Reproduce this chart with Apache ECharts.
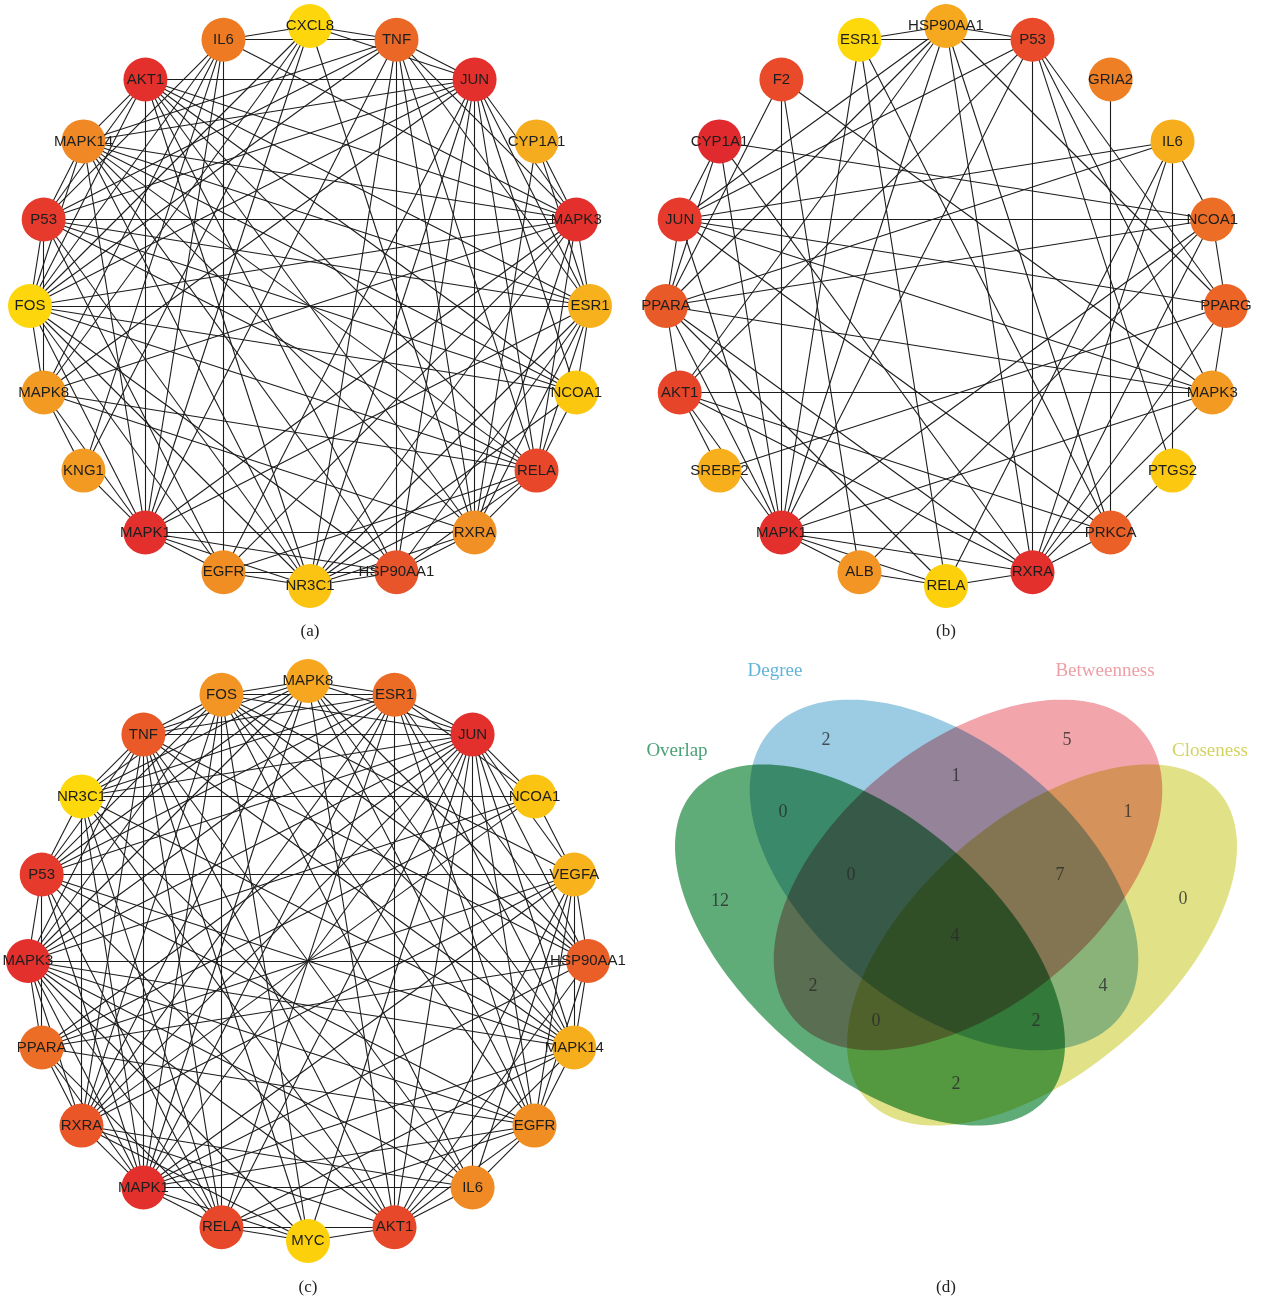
<!DOCTYPE html>
<html>
<head>
<meta charset="utf-8">
<script src="https://cdn.jsdelivr.net/npm/echarts@6/dist/echarts.min.js"></script>
<style>
  html, body { margin: 0; padding: 0; background: #ffffff; }
  #chart { width: 1261px; height: 1303px; }
</style>
</head>
<body>
<div id="chart"></div>
<script>
// ---------- Network (a): top-20 hub genes, clockwise from the top ----------
const nodesA = ['CXCL8','TNF','JUN','CYP1A1','MAPK3','ESR1','NCOA1','RELA','RXRA','HSP90AA1',
                'NR3C1','EGFR','MAPK1','KNG1','MAPK8','FOS','P53','MAPK14','AKT1','IL6'];
const edgesA = [
  ['CXCL8','TNF'],['CXCL8','IL6'],['CXCL8','JUN'],['CXCL8','FOS'],['CXCL8','RXRA'],['CXCL8','MAPK8'],['CXCL8','KNG1'],['CXCL8','MAPK1'],
  ['TNF','IL6'],['TNF','JUN'],['TNF','HSP90AA1'],['TNF','RXRA'],['TNF','RELA'],['TNF','MAPK3'],['TNF','FOS'],['TNF','P53'],['TNF','MAPK14'],['TNF','MAPK1'],['TNF','NR3C1'],['TNF','ESR1'],
  ['JUN','AKT1'],['JUN','MAPK14'],['JUN','P53'],['JUN','FOS'],['JUN','HSP90AA1'],['JUN','NR3C1'],['JUN','RELA'],['JUN','NCOA1'],['JUN','ESR1'],['JUN','MAPK3'],['JUN','EGFR'],['JUN','RXRA'],['JUN','MAPK8'],
  ['CYP1A1','RXRA'],['CYP1A1','MAPK3'],['CYP1A1','ESR1'],
  ['MAPK3','P53'],['MAPK3','ESR1'],['MAPK3','IL6'],['MAPK3','MAPK8'],['MAPK3','MAPK1'],['MAPK3','EGFR'],['MAPK3','NR3C1'],['MAPK3','RXRA'],['MAPK3','RELA'],['MAPK3','FOS'],['MAPK3','AKT1'],['MAPK3','MAPK14'],
  ['ESR1','FOS'],['ESR1','NCOA1'],['ESR1','RELA'],['ESR1','RXRA'],['ESR1','HSP90AA1'],['ESR1','NR3C1'],['ESR1','MAPK1'],['ESR1','AKT1'],['ESR1','MAPK14'],['ESR1','P53'],
  ['NCOA1','RELA'],['NCOA1','FOS'],['NCOA1','NR3C1'],['NCOA1','P53'],['NCOA1','AKT1'],['NCOA1','MAPK14'],
  ['RELA','RXRA'],['RELA','AKT1'],['RELA','HSP90AA1'],['RELA','NR3C1'],['RELA','EGFR'],['RELA','FOS'],['RELA','MAPK8'],['RELA','P53'],['RELA','MAPK14'],
  ['RXRA','MAPK1'],['RXRA','HSP90AA1'],['RXRA','NR3C1'],['RXRA','MAPK8'],['RXRA','AKT1'],['RXRA','MAPK14'],
  ['HSP90AA1','NR3C1'],['HSP90AA1','EGFR'],['HSP90AA1','MAPK1'],['HSP90AA1','MAPK14'],['HSP90AA1','AKT1'],['HSP90AA1','FOS'],
  ['NR3C1','EGFR'],['NR3C1','MAPK1'],['NR3C1','FOS'],['NR3C1','P53'],['NR3C1','MAPK14'],['NR3C1','AKT1'],
  ['EGFR','IL6'],['EGFR','MAPK1'],['EGFR','FOS'],['EGFR','P53'],
  ['MAPK1','AKT1'],['MAPK1','KNG1'],['MAPK1','MAPK8'],['MAPK1','FOS'],['MAPK1','IL6'],['MAPK1','MAPK14'],
  ['KNG1','MAPK8'],['KNG1','IL6'],
  ['MAPK8','FOS'],['MAPK8','P53'],['MAPK8','IL6'],
  ['FOS','P53'],['FOS','MAPK14'],['FOS','AKT1'],
  ['P53','MAPK14'],['P53','AKT1'],['MAPK14','AKT1'],['IL6','FOS'],['IL6','P53']
];

// ---------- Network (b) ----------
const nodesB = ['HSP90AA1','P53','GRIA2','IL6','NCOA1','PPARG','MAPK3','PTGS2','PRKCA','RXRA',
                'RELA','ALB','MAPK1','SREBF2','AKT1','PPARA','JUN','CYP1A1','F2','ESR1'];
const edgesB = [
  ['HSP90AA1','ESR1'],['HSP90AA1','P53'],['HSP90AA1','JUN'],['HSP90AA1','PPARA'],['HSP90AA1','MAPK1'],['HSP90AA1','PRKCA'],['HSP90AA1','PPARG'],['HSP90AA1','RXRA'],['HSP90AA1','AKT1'],
  ['P53','ESR1'],['P53','JUN'],['P53','MAPK1'],['P53','AKT1'],['P53','MAPK3'],['P53','RXRA'],['P53','PPARG'],['P53','PTGS2'],
  ['ESR1','MAPK1'],['ESR1','PRKCA'],['ESR1','RELA'],
  ['GRIA2','PRKCA'],
  ['IL6','JUN'],['IL6','PPARA'],['IL6','PTGS2'],['IL6','NCOA1'],['IL6','RXRA'],['IL6','RELA'],
  ['NCOA1','JUN'],['NCOA1','CYP1A1'],['NCOA1','PPARA'],['NCOA1','PPARG'],['NCOA1','ALB'],['NCOA1','RXRA'],
  ['PPARG','JUN'],['PPARG','MAPK3'],['PPARG','SREBF2'],['PPARG','RXRA'],
  ['MAPK3','AKT1'],['MAPK3','PPARA'],['MAPK3','JUN'],['MAPK3','MAPK1'],['MAPK3','RXRA'],['MAPK3','F2'],
  ['PTGS2','PRKCA'],
  ['PRKCA','MAPK1'],['PRKCA','RXRA'],['PRKCA','AKT1'],['PRKCA','JUN'],
  ['RXRA','RELA'],['RXRA','MAPK1'],['RXRA','AKT1'],['RXRA','PPARA'],['RXRA','CYP1A1'],
  ['RELA','ALB'],['RELA','MAPK1'],['RELA','PPARA'],
  ['ALB','MAPK1'],['ALB','F2'],
  ['MAPK1','F2'],['MAPK1','PPARA'],['MAPK1','AKT1'],['MAPK1','JUN'],['MAPK1','CYP1A1'],['MAPK1','NCOA1'],
  ['SREBF2','AKT1'],['AKT1','PPARA'],
  ['PPARA','JUN'],['PPARA','CYP1A1'],['PPARA','F2'],['JUN','CYP1A1']
];

// ---------- Network (c) ----------
const nodesC = ['MAPK8','ESR1','JUN','NCOA1','VEGFA','HSP90AA1','MAPK14','EGFR','IL6','AKT1',
                'MYC','RELA','MAPK1','RXRA','PPARA','MAPK3','P53','NR3C1','TNF','FOS'];
const edgesC = [
  ['MAPK8','FOS'],['MAPK8','ESR1'],['MAPK8','JUN'],['MAPK8','TNF'],['MAPK8','NR3C1'],['MAPK8','P53'],['MAPK8','MAPK3'],['MAPK8','RXRA'],['MAPK8','MAPK1'],['MAPK8','AKT1'],['MAPK8','EGFR'],['MAPK8','MAPK14'],['MAPK8','HSP90AA1'],
  ['ESR1','JUN'],['ESR1','AKT1'],['ESR1','TNF'],['ESR1','FOS'],['ESR1','NR3C1'],['ESR1','P53'],['ESR1','MAPK3'],['ESR1','RXRA'],['ESR1','MAPK1'],['ESR1','RELA'],['ESR1','EGFR'],['ESR1','MAPK14'],['ESR1','HSP90AA1'],['ESR1','NCOA1'],
  ['JUN','TNF'],['JUN','IL6'],['JUN','NCOA1'],['JUN','FOS'],['JUN','NR3C1'],['JUN','P53'],['JUN','MAPK3'],['JUN','PPARA'],['JUN','RXRA'],['JUN','MAPK1'],['JUN','RELA'],['JUN','MYC'],['JUN','AKT1'],['JUN','EGFR'],['JUN','MAPK14'],['JUN','HSP90AA1'],['JUN','VEGFA'],
  ['NCOA1','NR3C1'],['NCOA1','VEGFA'],['NCOA1','PPARA'],['NCOA1','MAPK3'],['NCOA1','RXRA'],
  ['VEGFA','P53'],['VEGFA','HSP90AA1'],['VEGFA','MAPK14'],['VEGFA','EGFR'],['VEGFA','IL6'],['VEGFA','AKT1'],['VEGFA','MAPK1'],['VEGFA','PPARA'],['VEGFA','RXRA'],['VEGFA','FOS'],
  ['HSP90AA1','MAPK3'],['HSP90AA1','MAPK14'],['HSP90AA1','EGFR'],['HSP90AA1','AKT1'],['HSP90AA1','MAPK1'],['HSP90AA1','TNF'],['HSP90AA1','FOS'],['HSP90AA1','PPARA'],
  ['MAPK14','EGFR'],['MAPK14','AKT1'],['MAPK14','MAPK1'],['MAPK14','RELA'],['MAPK14','P53'],['MAPK14','NR3C1'],['MAPK14','TNF'],['MAPK14','FOS'],['MAPK14','MAPK3'],
  ['EGFR','IL6'],['EGFR','AKT1'],['EGFR','MAPK1'],['EGFR','RELA'],['EGFR','P53'],['EGFR','MAPK3'],['EGFR','FOS'],['EGFR','PPARA'],
  ['IL6','AKT1'],['IL6','MAPK1'],['IL6','TNF'],['IL6','FOS'],['IL6','MAPK3'],['IL6','RXRA'],['IL6','NR3C1'],
  ['AKT1','MYC'],['AKT1','RELA'],['AKT1','TNF'],['AKT1','NR3C1'],['AKT1','P53'],['AKT1','MAPK3'],['AKT1','RXRA'],
  ['MYC','RELA'],['MYC','MAPK1'],['MYC','RXRA'],['MYC','MAPK3'],['MYC','TNF'],['MYC','FOS'],
  ['RELA','FOS'],['RELA','MAPK1'],['RELA','MAPK3'],['RELA','PPARA'],['RELA','P53'],['RELA','NR3C1'],['RELA','TNF'],
  ['MAPK1','RXRA'],['MAPK1','TNF'],['MAPK1','P53'],['MAPK1','NR3C1'],['MAPK1','PPARA'],['MAPK1','MAPK3'],['MAPK1','FOS'],
  ['RXRA','NR3C1'],['RXRA','PPARA'],['RXRA','TNF'],['RXRA','MAPK3'],['RXRA','FOS'],
  ['PPARA','MAPK3'],['PPARA','P53'],
  ['MAPK3','P53'],['MAPK3','TNF'],['MAPK3','FOS'],
  ['P53','NR3C1'],['P53','TNF'],['P53','FOS'],
  ['NR3C1','TNF'],['NR3C1','FOS'],['TNF','FOS']
];

// ---------- Venn diagram (d) ----------
const vennSets = ['Overlap','Degree','Betweenness','Closeness'];
// region key (initials of the sets it lies in) and the gene count in that region
const vennRegions = ['O','D','B','C','OD','DB','BC','ODB','DBC','ODBC','OB','DC','OBC','ODC','OC'];
const vennCounts  = [12, 2, 5, 0, 0, 1, 1, 0, 7, 4, 2, 4, 0, 2, 2];

// ---------- styling / layout ----------
const NODE_COLOR = {
  a: {CXCL8:'#fdd60b',TNF:'#eb6726',JUN:'#e3302d',CYP1A1:'#f5ac1f',MAPK3:'#e3302d',ESR1:'#f6b11d',NCOA1:'#fcc80f',
      RELA:'#e8472a',RXRA:'#f19024',HSP90AA1:'#e8552a',NR3C1:'#fbc312',EGFR:'#f08e23',MAPK1:'#e3302d',KNG1:'#f29a22',
      MAPK8:'#f29a22',FOS:'#fdd60b',P53:'#e53a2c',MAPK14:'#f08825',AKT1:'#e3302d',IL6:'#ee7b24'},
  b: {HSP90AA1:'#f6a81e',P53:'#e84a2a',GRIA2:'#ee7f25',IL6:'#f7ae1c',NCOA1:'#ec6e26',PPARG:'#ec6527',MAPK3:'#f39a22',
      PTGS2:'#fcc810',PRKCA:'#ea6026',RXRA:'#e3302d',RELA:'#fdd00c',ALB:'#f29524',MAPK1:'#e3302d',SREBF2:'#f7b01c',
      AKT1:'#e7452a',PPARA:'#e95a29',JUN:'#e53a2c',CYP1A1:'#e02a2e',F2:'#e84a2a',ESR1:'#fdd80a'},
  c: {MAPK8:'#f6a61f',ESR1:'#ec6c26',JUN:'#e3302d',NCOA1:'#fbc312',VEGFA:'#f7b21c',HSP90AA1:'#ea5e27',MAPK14:'#f7ae1d',
      EGFR:'#f08e23',IL6:'#f08a24',AKT1:'#e8482a',MYC:'#fdd00c',RELA:'#e8482a',MAPK1:'#e3302d',RXRA:'#ea5628',
      PPARA:'#ec6e26',MAPK3:'#e3302d',P53:'#e53a2c',NR3C1:'#fdd80a',TNF:'#ea5a28',FOS:'#f29524'}
};
const PANELS = [
  {key:'a', nodes:nodesA, edges:edgesA, center:[310,306], caption:'(a)', capPos:[310,632]},
  {key:'b', nodes:nodesB, edges:edgesB, center:[946,306], caption:'(b)', capPos:[946,632]},
  {key:'c', nodes:nodesC, edges:edgesC, center:[308,961], caption:'(c)', capPos:[308,1288]}
];
const RING_RADIUS = 280;

// Ellipses of the four-set Venn (pixel units of panel d); rot = degrees, clockwise on screen
const VENN_SHAPES = {
  Overlap:     {cx:870,  cy:945, a:234, b:126, rot:41,  fill:'#5fac78'},
  Degree:      {cx:944,  cy:875, a:226, b:132, rot:39,  fill:'#9ccbe4'},
  Betweenness: {cx:968,  cy:875, a:226, b:132, rot:-39, fill:'#f2a5ab'},
  Closeness:   {cx:1042, cy:945, a:234, b:126, rot:-41, fill:'#e1e188'}
};
const VENN_TITLES = {
  Overlap:     {pos:[677,751],  color:'#1b8a52'},
  Degree:      {pos:[775,671],  color:'#3ca0d0'},
  Betweenness: {pos:[1105,671], color:'#e8878f'},
  Closeness:   {pos:[1210,751], color:'#c9c83a'}
};
const REGION_POS = {
  O:[720,901], D:[826,740], B:[1067,740], C:[1183,899], OD:[783,812], DB:[956,776], BC:[1128,812],
  ODB:[851,875], DBC:[1060,875], ODBC:[955,936], OB:[813,986], DC:[1103,986], OBC:[876,1021], ODC:[1036,1021], OC:[956,1084]
};

// ---------- build the option ----------
const polar = [], radiusAxis = [], angleAxis = [], series = [], graphic = [];

PANELS.forEach((p, i) => {
  polar.push({center: p.center, radius: RING_RADIUS});
  radiusAxis.push({polarIndex:i, type:'value', min:0, max:1, show:false,
    axisLine:{show:false}, axisTick:{show:false}, axisLabel:{show:false}, splitLine:{show:false}});
  angleAxis.push({polarIndex:i, type:'value', min:0, max:p.nodes.length, startAngle:90, clockwise:true, show:false,
    axisLine:{show:false}, axisTick:{show:false}, axisLabel:{show:false}, splitLine:{show:false}});

  // drop duplicate pairs
  const seen = new Set();
  const links = [];
  p.edges.forEach(([s, t]) => {
    const k = [s, t].sort().join('|');
    if (!seen.has(k)) { seen.add(k); links.push({source:s, target:t}); }
  });

  series.push({
    type:'graph',
    coordinateSystem:'polar',
    polarIndex:i,
    silent:true,
    animation:false,
    symbol:'circle',
    symbolSize:44,
    data: p.nodes.map((n, k) => ({name:n, value:[1, k], itemStyle:{color: NODE_COLOR[p.key][n]}})),
    links: links,
    lineStyle:{color:'#1c1c1c', width:1.1, opacity:1, curveness:0},
    itemStyle:{borderWidth:0},
    label:{show:true, position:'inside', color:'#1e1e1e', fontSize:15,
           fontFamily:'"Liberation Sans", Arial, sans-serif'},
    emphasis:{disabled:true}
  });

  graphic.push({type:'text', x:p.capPos[0], y:p.capPos[1], silent:true,
    style:{text:p.caption, fill:'#222', font:'17px "Liberation Serif", "DejaVu Serif", serif',
           textAlign:'center', textVerticalAlign:'middle'}});
});
graphic.push({type:'text', x:946, y:1288, silent:true,
  style:{text:'(d)', fill:'#222', font:'17px "Liberation Serif", "DejaVu Serif", serif',
         textAlign:'center', textVerticalAlign:'middle'}});

// Venn panel grid: axis units equal page pixels
const grid = [{left:636, top:650, width:625, height:650, containLabel:false}];
const xAxis = [{type:'value', min:636, max:1261, show:false, gridIndex:0}];
const yAxis = [{type:'value', min:650, max:1300, inverse:true, show:false, gridIndex:0}];

// the four set ellipses, multiplied onto each other so every overlap darkens
series.push({
  type:'custom',
  coordinateSystem:'cartesian2d',
  silent:true,
  animation:false,
  blendMode:'multiply',
  data: vennSets.map((n, i) => [VENN_SHAPES[n].cx, VENN_SHAPES[n].cy, i]),
  renderItem: function (params, api) {
    const s = VENN_SHAPES[vennSets[params.dataIndex]];
    const r = s.rot * Math.PI / 180;
    const pts = [];
    for (let k = 0; k < 180; k++) {
      const t = k / 180 * Math.PI * 2;
      const ex = s.a * Math.cos(t), ey = s.b * Math.sin(t);
      pts.push(api.coord([s.cx + ex * Math.cos(r) - ey * Math.sin(r),
                          s.cy + ex * Math.sin(r) + ey * Math.cos(r)]));
    }
    return {type:'polygon', shape:{points:pts}, style:{fill:s.fill}};
  },
  z:1
});

series.push({
  type:'scatter',
  silent:true,
  animation:false,
  symbolSize:0,
  data: vennRegions.map((r, i) => ({value:[REGION_POS[r][0], REGION_POS[r][1]], count:vennCounts[i]})),
  label:{show:true, position:'inside', color:'#2a2a2a', fontSize:18,
         fontFamily:'"Liberation Serif", "DejaVu Serif", serif',
         formatter: p => String(p.data.count)},
  z:5
});

series.push({
  type:'scatter',
  silent:true,
  animation:false,
  symbolSize:0,
  data: vennSets.map(n => ({value:VENN_TITLES[n].pos, name:n,
    label:{color:VENN_TITLES[n].color}})),
  label:{show:true, position:'inside', fontSize:19,
         fontFamily:'"Liberation Serif", "DejaVu Serif", serif',
         formatter: p => p.name},
  z:5
});

const chart = echarts.init(document.getElementById('chart'), null, {renderer:'canvas'});
chart.setOption({
  backgroundColor:'#ffffff',
  animation:false,
  polar, radiusAxis, angleAxis,
  grid, xAxis, yAxis,
  series,
  graphic
});
</script>
</body>
</html>
